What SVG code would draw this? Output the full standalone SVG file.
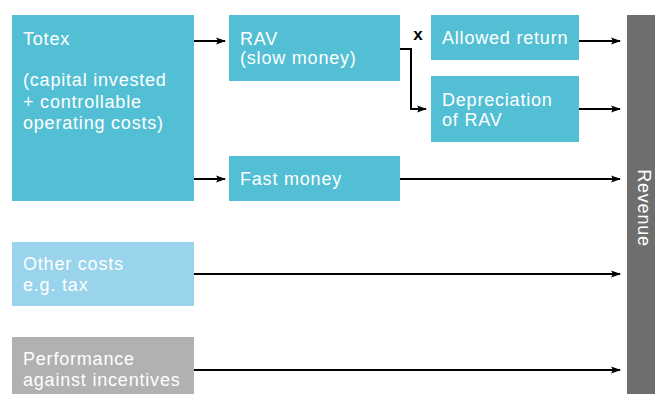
<svg xmlns="http://www.w3.org/2000/svg" width="655" height="394" viewBox="0 0 655 394">
<defs>
<marker id="ah" markerWidth="10" markerHeight="8" refX="9" refY="4" orient="auto" markerUnits="userSpaceOnUse">
<path d="M0,0.5 L10,4 L0,7.5 L2,4 Z" fill="#000"/>
</marker>
<style>
.t{fill:#fff;font-family:"Liberation Sans",Arial,sans-serif;font-size:18px;letter-spacing:0.8px}
.teal{fill:#53bfd4}
.c{stroke:#000;stroke-width:2;fill:none;marker-end:url(#ah)}
</style>
</defs>
<rect width="655" height="394" fill="#fff"/>
<g id="totex"><rect class="teal" x="12" y="15" width="182" height="186"/>
<text class="t" x="23" y="45">Totex</text>
<text class="t" x="23" y="86">(capital invested</text>
<text class="t" x="23" y="108">+ controllable</text>
<text class="t" x="23" y="129">operating costs)</text></g>
<g id="rav"><rect class="teal" x="229" y="15" width="171" height="66"/>
<text class="t" x="240" y="45">RAV</text>
<text class="t" x="240" y="64">(slow money)</text></g>
<g id="fast"><rect class="teal" x="229" y="156" width="171" height="45"/>
<text class="t" x="240" y="185">Fast money</text></g>
<g id="allowed"><rect class="teal" x="431" y="15" width="148" height="45"/>
<text class="t" x="442" y="44">Allowed return</text></g>
<g id="depr"><rect class="teal" x="431" y="76" width="148" height="66"/>
<text class="t" x="442" y="106">Depreciation</text>
<text class="t" x="442" y="126">of RAV</text></g>
<g id="other"><rect x="12" y="242" width="182" height="64" fill="#99d3ec"/>
<text class="t" x="23" y="270">Other costs</text>
<text class="t" x="23" y="291">e.g. tax</text></g>
<g id="perf"><rect x="12" y="337" width="182" height="57" fill="#b1b1b1"/>
<text class="t" x="23" y="365">Performance</text>
<text class="t" x="23" y="386">against incentives</text></g>
<g id="revenue"><rect x="627" y="15" width="28" height="379" fill="#6e6e6e"/>
<text class="t" transform="translate(638,208) rotate(90)" text-anchor="middle">Revenue</text></g>
<g id="connectors">
<path class="c" d="M194,41 H225"/>
<path class="c" d="M194,179 H225"/>
<path class="c" d="M400,49 H411 V109 H426"/>
<path class="c" d="M579,41 H620"/>
<path class="c" d="M579,109 H620"/>
<path class="c" d="M400,179 H620"/>
<path class="c" d="M194,274 H620"/>
<path class="c" d="M194,370 H620"/>
<text x="418" y="40" text-anchor="middle" font-family="Liberation Sans,Arial,sans-serif" font-size="17" font-weight="bold" fill="#000">x</text>
</g>
</svg>
